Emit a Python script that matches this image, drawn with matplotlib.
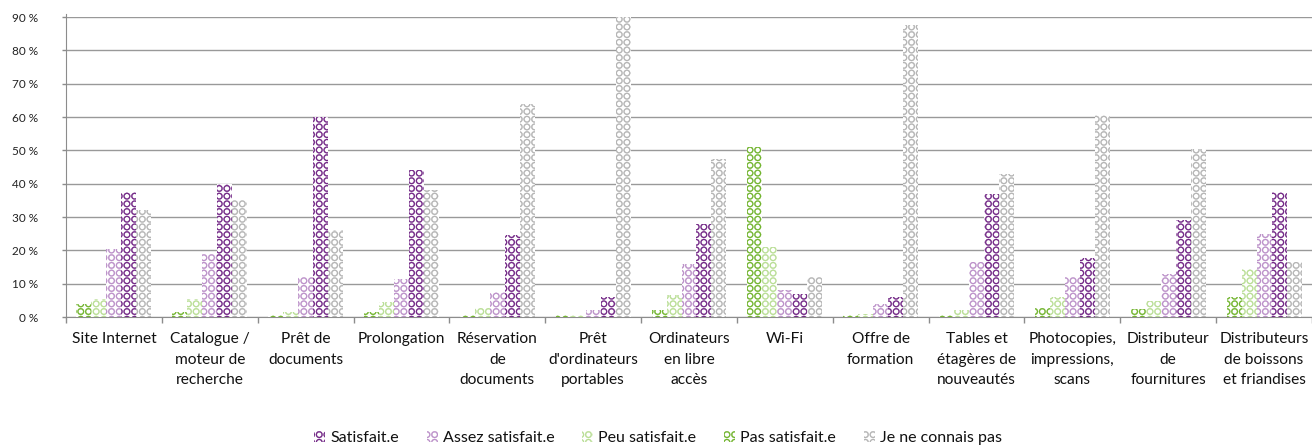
import matplotlib
matplotlib.use("Agg")
import matplotlib.pyplot as plt
import matplotlib.hatch as mhatch
from matplotlib.path import Path
import numpy as np

plt.rcParams['font.family'] = ['Lato', 'DejaVu Sans']
plt.rcParams['hatch.linewidth'] = 0.3

categories = ["Site Internet", "Catalogue /\nmoteur de\nrecherche", "Prêt de\ndocuments", "Prolongation",
              "Réservation\nde\ndocuments", "Prêt\nd'ordinateurs\nportables", "Ordinateurs\nen libre\naccès",
              "Wi-Fi", "Offre de\nformation", "Tables et\nétagères de\nnouveautés", "Photocopies,\nimpressions,\nscans",
              "Distributeur\nde\nfournitures", "Distributeurs\nde boissons\net friandises"]
pas = [4, 1.5, 0.5, 1.5, 0.5, 0.5, 2, 51, 0.5, 0.5, 2.7, 2.4, 6]
peu = [5.5, 5.5, 1.5, 4.5, 2.7, 0.5, 6.5, 21, 1, 2, 6, 4.8, 14.4]
assez = [20.5, 19, 12, 11.5, 7.6, 2, 16, 8, 4, 16.5, 12, 13, 25]
satisfait = [37.5, 40, 60, 44, 24.6, 6, 28, 7, 6, 37, 17.7, 29, 37.5]
jnsp = [32, 35, 26, 38, 64, 90, 47.5, 12, 87.5, 43, 60.7, 50.4, 16.5]
series = ["Pas satisfait.e", "Peu satisfait.e", "Assez satisfait.e", "Satisfait.e", "Je ne connais pas"]
values = [pas, peu, assez, satisfait, jnsp]
colors = ["#6AB023", "#B5DC8F", "#B88BC6", "#6A1B7F", "#B0B0B0"]
legend_order = [3, 2, 1, 0, 4]
ticks = list(range(0, 100, 10))


class RingGrid(mhatch.HatchPatternBase):
    """Rings on a square, non staggered grid: one ring per 1/13 of the hatch tile."""
    cells = 13
    outer = 0.43
    inner = 0.31

    def __init__(self, hatch, density):
        self.num = hatch.count('Q') * self.cells
        self.circle = Path.unit_circle()
        self.num_vertices = self.num ** 2 * len(self.circle.vertices) * 2

    def set_vertices_and_codes(self, vertices, codes):
        step = 1.0 / self.num
        nv = len(self.circle.vertices)
        k = 0
        for r in range(self.num):
            for c in range(self.num):
                centre = [(c + .5) * step, (r + .5) * step]
                vertices[k:k + nv] = self.circle.vertices * step * self.outer + centre
                codes[k:k + nv] = self.circle.codes
                k += nv
                vertices[k:k + nv] = self.circle.vertices[::-1] * step * self.inner + centre
                codes[k:k + nv] = self.circle.codes
                k += nv


mhatch._hatch_types.append(RingGrid)

fig = plt.figure(figsize=(13.12, 4.46), dpi=100)
ax = fig.add_axes([66/1312, 1-317/446, (1312-66)/1312, 300/446])
n = len(categories)
x = np.arange(n)
w = 0.1565
handles = []
for i, (s, v, c) in enumerate(zip(series, values, colors)):
    b = ax.bar(x + (i-2)*w, v, w, facecolor='white', edgecolor=c, hatch='Q', linewidth=0, label=s, zorder=3)
    handles.append(b)
ax.set_xlim(-0.5, n-0.5)
ax.set_ylim(0, 90)
ax.set_yticks(ticks)
ax.set_yticklabels([f"{t} %" for t in ticks], fontsize=8.5, color='#222222')
ax.set_xticks(np.arange(n+1)-0.5, minor=True)
ax.set_xticks(x)
ax.set_xticklabels(categories, fontsize=11.2, color='#111111', linespacing=1.6)
ax.tick_params(axis='x', which='major', length=0, pad=11)
ax.tick_params(axis='x', which='minor', length=4, color='#8c8c8c', width=1)
ax.tick_params(axis='y', length=3, color='#8c8c8c', width=1, pad=17)
ax.grid(axis='y', color='#999999', lw=1, zorder=1)
ax.set_axisbelow(True)
for s in ['top', 'right']:
    ax.spines[s].set_visible(False)
for s in ['left', 'bottom']:
    ax.spines[s].set_color('#8c8c8c')
for s in ax.spines.values():
    s.set_clip_on(False)
ax.spines['left'].set_bounds(0, 90.8)

leg = fig.legend([handles[i] for i in legend_order], [series[i] for i in legend_order], loc='lower center',
                 bbox_to_anchor=(658/1312, -0.03), ncol=5, frameon=False, fontsize=11.5,
                 handlelength=0.7, handleheight=0.7, handletextpad=0.3, columnspacing=1.75,
                 labelcolor='#111111')
fig.savefig("out.png", dpi=100)
